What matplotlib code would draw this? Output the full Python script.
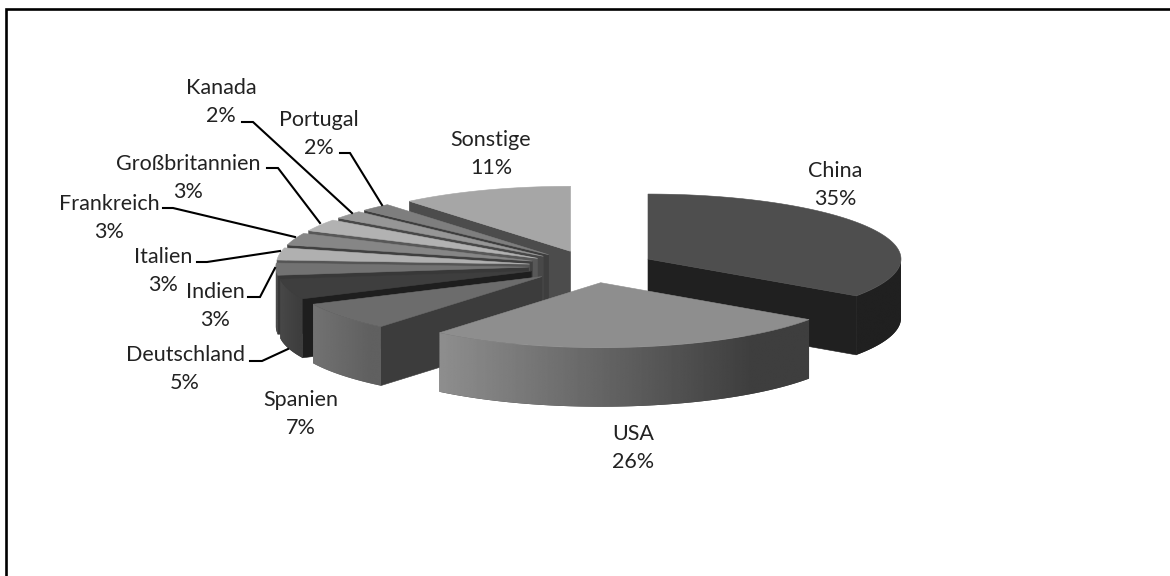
import numpy as np
import matplotlib
matplotlib.use("Agg")
import matplotlib.pyplot as plt

plt.rcParams['font.family'] = ['Lato', 'DejaVu Sans']

# Data: share of each country in percent, clockwise from the top
categories = ["China", "USA", "Spanien", "Deutschland", "Indien", "Italien",
              "Frankreich", "Großbritannien", "Kanada", "Portugal", "Sonstige"]
values = [34.6, 26.4, 7, 5, 3, 3, 3, 3, 2, 2, 11]

# Grey levels per slice
top_grey = [0x4e, 0x8e, 0x6c, 0x3e, 0x72, 0xb0, 0x86, 0xb2, 0x96, 0x7e, 0xa6]
cut_grey = [0x20, 0x3e, 0x3c, 0x1e, 0x38, 0x55, 0x40, 0x58, 0x48, 0x3e, 0x4c]
side_left = [0x20, 0x8e, 0x72, 0x48, 0x4a, 0x60, 0x50, 0x60, 0x50, 0x50, 0x50]
side_right = [0x20, 0x3e, 0x60, 0x3e, 0x4a, 0x60, 0x50, 0x60, 0x50, 0x50, 0x50]

# Label anchor (centre of the two lines) in image pixels
label_xy = [(835, 185), (633, 448), (301, 414), (185, 369), (215, 306), (163, 271),
            (109, 218), (188, 178), (221, 102), (319, 134), (491, 154)]
# Leader lines in image pixels
leaders = {
    "Deutschland": [(250, 361), (262, 361), (288, 349)],
    "Indien": [(248, 297), (260, 297), (275, 268)],
    "Italien": [(197, 262), (207, 262), (280, 251)],
    "Frankreich": [(163, 208), (173, 208), (295, 237)],
    "Großbritannien": [(267, 168), (278, 168), (320, 223)],
    "Kanada": [(242, 122), (253, 122), (352, 213)],
    "Portugal": [(340, 153), (350, 153), (382, 205)],
}

W, H = 1170, 576
CX, CY = 592.0, 266.6
RX, RY = 253.0, 65.0
DEPTH = 59.0
EXPLODE = 0.25

fig = plt.figure(figsize=(W / 100, H / 100), dpi=100, facecolor="white")
ax = fig.add_axes([0, 0, 1, 1])


def grey(v):
    return (v / 255, v / 255, v / 255)


def quad(xs, ys, v, z):
    ax.fill(xs, ys, facecolor=grey(v), edgecolor=grey(v), lw=0.4, zorder=z)


ends = np.cumsum(values) / np.sum(values) * 2 * np.pi
starts = np.r_[0, ends[:-1]]
mids = (starts + ends) / 2
order = np.argsort(-np.cos(mids))

for rank, i in enumerate(order):
    z = 2 + rank
    a0, a1, m = starts[i], ends[i], mids[i]
    ax0 = CX + EXPLODE * RX * np.sin(m)
    ay0 = CY - EXPLODE * RY * np.cos(m)

    def rim(t):
        return ax0 + RX * np.sin(t), ay0 - RY * np.cos(t)

    # cut faces turned towards the viewer
    for a, visible in ((a0, np.sin(a0) < -1e-6), (a1, np.sin(a1) > 1e-6)):
        if visible:
            px, py = rim(a)
            quad([ax0, px, px, ax0], [ay0, py, py + DEPTH, ay0 + DEPTH], cut_grey[i], z)
    # outer wall (front half only), shaded along x with a clipped gradient image
    lo, hi = max(a0, np.pi / 2), min(a1, 3 * np.pi / 2)
    if hi > lo:
        ts = np.linspace(lo, hi, 80)
        xs, ys = rim(ts)
        poly_x = np.r_[xs, xs[::-1]]
        poly_y = np.r_[ys, ys[::-1] + DEPTH]
        patch = ax.fill(poly_x, poly_y, facecolor=grey(side_right[i]),
                        edgecolor="none", zorder=z)[0]
        xmin, xmax = xs.min(), xs.max()
        f = np.clip(np.linspace(0, 1, 256) / 0.85, 0, 1)
        v = (side_left[i] + (side_right[i] - side_left[i]) * f) / 255
        im = ax.imshow(v[None, :], cmap="gray", vmin=0, vmax=1, aspect="auto",
                       interpolation="bilinear", zorder=z + 0.1,
                       extent=(xmin, xmax, poly_y.max(), poly_y.min()))
        im.set_clip_path(patch)
    # top
    ts = np.linspace(a0, a1, 120)
    xs, ys = rim(ts)
    quad(np.r_[ax0, xs], np.r_[ay0, ys], top_grey[i], z + 0.5)

for name, val, (lx, ly) in zip(categories, values, label_xy):
    ax.text(lx, ly, f"{name}\n{val:.0f}%", ha="center", va="center", fontsize=15.5,
            color="#222222", linespacing=1.53, zorder=30)

for pts in leaders.values():
    px, py = zip(*pts)
    ax.plot(px, py, color="black", lw=1.5, zorder=29, solid_joinstyle="miter")

# Chart frame: left and top edges
ax.plot([6, 6, W], [H, 9, 9], color="black", lw=1.9, zorder=40, solid_joinstyle="miter")

ax.set_xlim(0, W)
ax.set_ylim(H, 0)
ax.axis("off")

fig.savefig("out.png", dpi=100, facecolor="white")
